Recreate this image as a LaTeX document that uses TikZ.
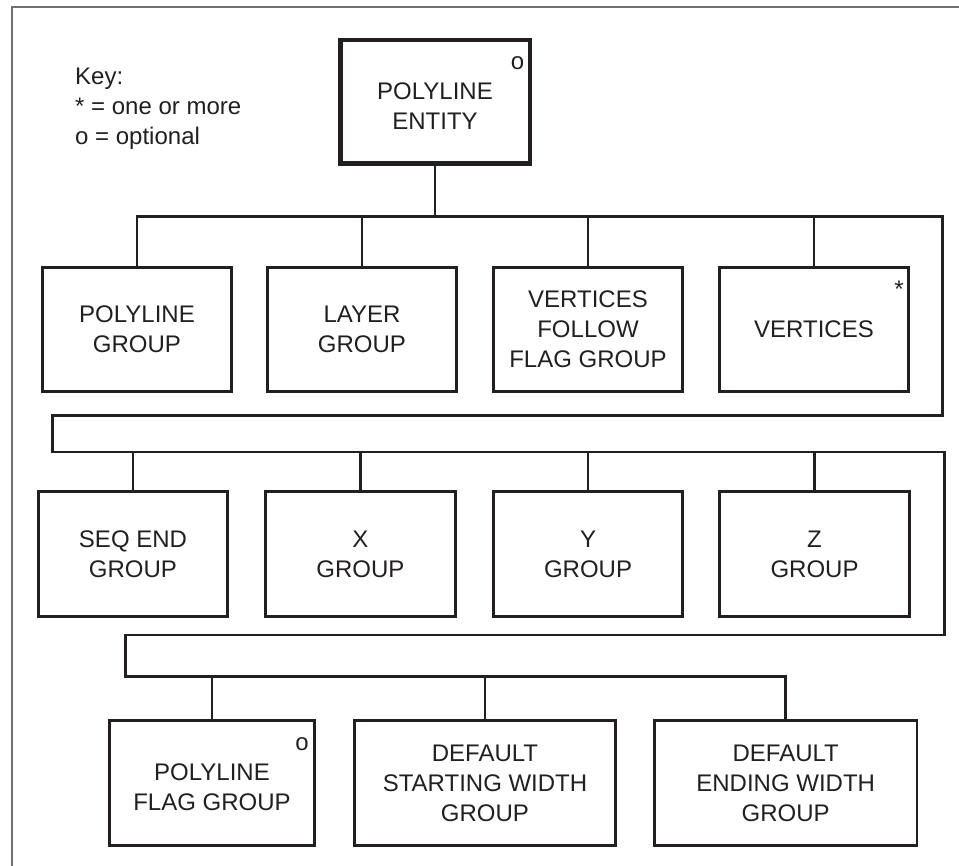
\documentclass[tikz,border=0pt]{standalone}
\usepackage{fontspec}
\setmainfont{Liberation Sans}
\definecolor{ink}{HTML}{231F20}
\definecolor{framegray}{HTML}{707070}
\begin{document}
\begin{tikzpicture}[x=1pt,y=-1pt,
  every node/.style={text=ink, font=\fontsize{24}{30}\selectfont},
  box/.style={draw=ink, line width=2.6pt, inner sep=0pt, align=center,
              minimum height=124.5pt},
  rootbox/.style={draw=ink, line width=4.5pt, inner sep=0pt,
              minimum width=189.5pt, minimum height=123.5pt},
  txt/.style={inner sep=0pt, align=center},
  flagmark/.style={inner sep=0pt, anchor=base},
  keytxt/.style={inner sep=0pt, anchor=base west},
  wire/.style={draw=ink, line width=2.6pt}]
\useasboundingbox (0,0) rectangle (959,866);

% frame edges
\draw[framegray, line width=2pt] (12,866) -- (12,7) -- (959,7);

% key
\node[keytxt] (k1) at (75,85) {Key:};
\node[keytxt] (k2) at (75,115) {* = one or more};
\node[keytxt] (k3) at (75,145) {o = optional};

% root entity
\node[rootbox] (root) at (435,102) {};
\node[txt] (roottxt) at (435,106.5) {POLYLINE\\ENTITY};
\node[flagmark] (rooto) at (517.5,69.5) {o};

% first row of groups
\node[box, minimum width=189.4pt] (b1) at (137,329.5) {POLYLINE\\GROUP};
\node[box, minimum width=189.4pt] (b2) at (362,329.5) {LAYER\\GROUP};
\node[box, minimum width=189.4pt] (b3) at (588,329.5) {VERTICES\\FOLLOW\\FLAG GROUP};
\node[box, minimum width=189.4pt] (b4) at (814,329.5) {VERTICES};
\node[flagmark] (b4s) at (899,298) {*};

% second row of groups
\node[box, minimum width=189.5pt, minimum height=125.4pt] (c1) at (133,554) {SEQ END\\GROUP};
\node[box, minimum width=190pt, minimum height=125.4pt] (c2) at (360.5,554) {X\\GROUP};
\node[box, minimum width=189.5pt, minimum height=125.4pt] (c3) at (588,554) {Y\\GROUP};
\node[box, minimum width=190pt, minimum height=125.4pt] (c4) at (814.5,554) {Z\\GROUP};

% third row of groups
\node[box, minimum width=205.4pt, minimum height=125.4pt] (d1) at (212,783) {};
\node[txt] (d1txt) at (212,787) {POLYLINE\\FLAG GROUP};
\node[flagmark] (d1o) at (302,750.5) {o};
\node[box, minimum width=261.4pt, minimum height=125.4pt] (d2) at (485,783) {DEFAULT\\STARTING WIDTH\\GROUP};
\node[box, minimum width=262.4pt, minimum height=125.4pt] (d3) at (785.7,783) {DEFAULT\\ENDING WIDTH\\GROUP};

% bus route
\coordinate (j0) at (435,216.3);
\coordinate (r1) at (942.5,216.3);
\coordinate (r2) at (942.5,415.7);
\coordinate (l1) at (52.2,415.7);
\coordinate (l2) at (52.2,452.2);
\coordinate (r3) at (944.3,452.2);
\coordinate (r4) at (944.3,635);
\coordinate (l3) at (125.3,635);
\coordinate (l4) at (125.3,676.7);

\draw[wire] (root.south) -- (j0);
\draw[wire] (b1.north) -- (b1.north |- j0) -- (r1) -- (r2) -- (l1) -- (l2)
  -- (r3) -- (r4) -- (l3) -- (l4) -- (d3.north |- l4) -- (d3.north);

% drops to the first row
\foreach \n in {b2,b3,b4} \draw[wire] (\n.north) -- (\n.north |- j0);
% drops to the second row
\foreach \n in {c1,c2,c3,c4} \draw[wire] (\n.north) -- (\n.north |- l2);
% drops to the third row
\foreach \n in {d1,d2} \draw[wire] (\n.north) -- (\n.north |- l4);
\end{tikzpicture}
\end{document}
